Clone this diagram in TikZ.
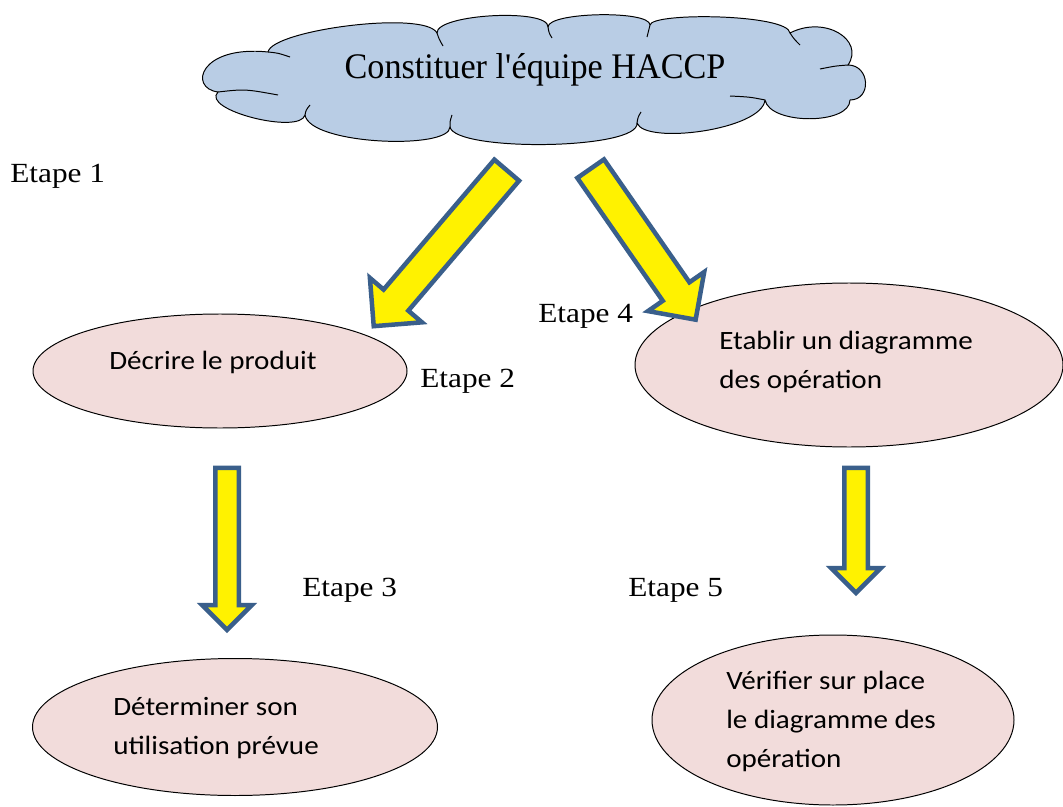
\documentclass[tikz,border=0pt]{standalone}
\usepackage{fontspec}
\setmainfont{Liberation Serif}
\newfontfamily\cloudfont{Liberation Serif}[FakeStretch=0.95]
\newfontfamily\etapefont{Liberation Serif}[FakeStretch=1.13]
\newfontfamily\boxfont{Carlito}[FakeStretch=1.1]
\usepackage{xcolor}
\usepackage{tikz}
\usetikzlibrary{shapes.geometric, shapes.arrows, calc}

\definecolor{cloudblue}{RGB}{185,205,229}
\definecolor{steppink}{RGB}{242,220,219}
\definecolor{arrowedge}{RGB}{58,95,139}

% one pixel of the layout grid
\newcommand{\pxlen}{0.025cm}
% fat arrow: name, tail, tip
\newcommand{\blockarrow}[4][]{%
  \path let \p1=($(#4)-(#3)$), \n1={atan2(\y1,\x1)}, \n2={veclen(\x1,\y1)} in
    node[fatarrow, #1, minimum height=\n2, rotate=\n1] (#2) at ($(#3)!0.5!(#4)$) {};}

\begin{document}
\begin{tikzpicture}[x=\pxlen, y=-\pxlen,
    team/.style={draw, line width=0.7pt, fill=cloudblue, line join=round},
    puffline/.style={draw, line width=0.7pt},
    stepbox/.style={ellipse, draw, line width=0.7pt, fill=steppink, inner sep=0pt},
    boxtext/.style={font=\boxfont\fontsize{18.8pt}{27.7pt}\selectfont, align=left, inner sep=0pt, anchor=west},
    etape/.style={font=\etapefont\fontsize{19.7pt}{24pt}\selectfont, inner sep=0pt, anchor=base west},
    fatarrow/.style={single arrow, draw=arrowedge, fill=yellow, line width=3.2pt, line join=miter,
      inner xsep=0pt, inner ysep=14*\pxlen, single arrow head extend=18*\pxlen},
    thinarrow/.style={inner ysep=9.5*\pxlen, single arrow head extend=13*\pxlen},
]
    \useasboundingbox (0,0) rectangle (1063,807);

    % Team cloud
    \draw[team] (218,92)
        .. controls (188,88) and (200,45) .. (268,52)
        .. controls (272,30) and (425,10) .. (437,33)
        .. controls (436,14) and (549,8) .. (548,27)
        .. controls (548,12) and (650,10) .. (650,25)
        .. controls (652,12) and (788,14) .. (790,33)
        .. controls (825,15) and (865,40) .. (848,65)
        .. controls (870,65) and (872,100) .. (850,100)
        .. controls (850,125) and (770,125) .. (765,100)
        .. controls (762,130) and (645,145) .. (637,123)
        .. controls (640,150) and (455,152) .. (450,127)
        .. controls (450,150) and (310,145) .. (305,115)
        .. controls (300,135) and (200,110) .. (218,92) -- cycle;
    % inner puff lines
    \path[puffline]
        (268,52) .. controls (278,53) .. (290,57)
        (218,92) .. controls (245,89) .. (278,95)
        (437,33) .. controls (439,39) .. (443,46)
        (548,27) .. controls (549,33) .. (552,38)
        (650,25) .. controls (649,31) .. (647,37)
        (790,33) .. controls (794,39) .. (800,45)
        (848,65) .. controls (835,66) .. (820,69)
        (765,100) .. controls (750,97) .. (730,96)
        (637,123) .. controls (638,117) .. (641,112)
        (450,127) .. controls (450,121) .. (452,115)
        (305,115) .. controls (306,110) .. (310,105);
    \node[font=\cloudfont\fontsize{25.6pt}{30pt}\selectfont, inner sep=0pt, anchor=base] (equipe) at (535,79) {Constituer l\textquotesingle équipe HACCP};

    % Steps
    \node[stepbox, minimum width=374*\pxlen, minimum height=114*\pxlen] (produit) at (220,371) {};
    \node[boxtext] (produit-t) at (109,362) {Décrire le produit};

    \node[stepbox, minimum width=405*\pxlen, minimum height=137*\pxlen] (usage) at (235,727) {};
    \node[boxtext] (usage-t) at (113,728) {Déterminer son\\utilisation prévue};

    \node[stepbox, minimum width=428*\pxlen, minimum height=164*\pxlen] (diagramme) at (849,365) {};
    \node[boxtext] (diagramme-t) at (719,362) {Etablir un diagramme\\des opération};

    \node[stepbox, minimum width=362*\pxlen, minimum height=170*\pxlen] (verif) at (833,720) {};
    \node[boxtext] (verif-t) at (726,721) {Vérifier sur place\\le diagramme des\\opération};

    % Step labels
    \node[etape] (e1) at (10,183) {Etape 1};
    \node[etape] (e2) at (420,387) {Etape 2};
    \node[etape] (e3) at (302,596) {Etape 3};
    \node[etape] (e4) at (538,322) {Etape 4};
    \node[etape] (e5) at (628,596) {Etape 5};

    % Arrow ends
    \coordinate (a1-tail) at (512,164);
    \coordinate (a1-tip) at (379,320);
    \coordinate (a2-tail) at (586,162);
    \coordinate (a2-tip) at (691,313);
    \coordinate (a3-tail) at (227,462);
    \coordinate (a3-tip) at (227,624);
    \coordinate (a4-tail) at (856,462);
    \coordinate (a4-tip) at (856,587);

    \blockarrow{vers-produit}{a1-tail}{a1-tip}
    \blockarrow{vers-diagramme}{a2-tail}{a2-tip}
    \blockarrow[thinarrow]{vers-usage}{a3-tail}{a3-tip}
    \blockarrow[thinarrow]{vers-verif}{a4-tail}{a4-tip}

\end{tikzpicture}
\end{document}
